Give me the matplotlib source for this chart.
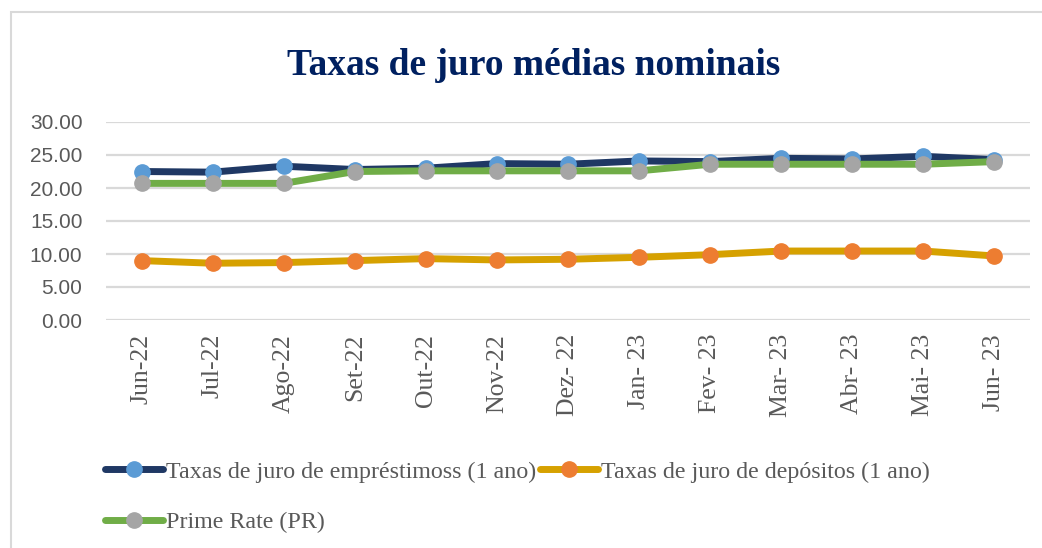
# Taxas de juro médias nominais - line chart
import numpy as np
import matplotlib
matplotlib.use("Agg")
import matplotlib.pyplot as plt
from matplotlib.patches import Rectangle

# data
meses = ["Jun-22", "Jul-22", "Ago-22", "Set-22", "Out-22", "Nov-22", "Dez- 22",
         "Jan- 23", "Fev- 23", "Mar- 23", "Abr- 23", "Mai- 23", "Jun- 23"]
emprestimos = [22.5, 22.4, 23.3, 22.8, 23.0, 23.7, 23.6, 24.1, 24.0, 24.5, 24.4, 24.8, 24.3]
depositos = [9.0, 8.6, 8.7, 9.0, 9.3, 9.1, 9.2, 9.5, 9.9, 10.45, 10.45, 10.45, 9.7]
prime_rate = [20.7, 20.7, 20.7, 22.5, 22.6, 22.6, 22.6, 22.6, 23.6, 23.6, 23.6, 23.6, 24.0]
y_ticks = [0, 5, 10, 15, 20, 25, 30]

# style
serif = ["Liberation Serif", "DejaVu Serif"]
sans = ["Liberation Sans", "DejaVu Sans"]
grid_color = "#D9D9D9"
text_color = "#595959"

fig = plt.figure(figsize=(10.42, 5.48), dpi=100)
fig.patch.set_facecolor("white")

# chart area border (runs off right and bottom edge)
fig.patches.append(Rectangle((11 / 1042, -0.05), 1.1, 1 - 12 / 548 + 0.05,
                             transform=fig.transFigure, fill=False,
                             edgecolor=grid_color, linewidth=1.5, zorder=0))

ax = fig.add_axes([106 / 1042, 1 - 320 / 548, 924 / 1042, 198 / 548])
x = np.arange(len(meses))

series = [
    (emprestimos, "#1F3864", "#5B9BD5", "Taxas de juro de empréstimoss (1 ano)"),
    (depositos, "#D6A100", "#ED7D31", "Taxas de juro de depósitos (1 ano)"),
    (prime_rate, "#70AD47", "#A5A5A5", "Prime Rate (PR)"),
]
handles = []
for i, (vals, lc, mc, lab) in enumerate(series):
    h, = ax.plot(x, vals, color=lc, linewidth=5, marker="o", markersize=11,
                 markerfacecolor=mc, markeredgecolor=mc, label=lab,
                 solid_capstyle="round", zorder=3 + i)
    handles.append(h)

# axes
ax.set_xlim(-0.5, len(meses) - 0.5)
ax.set_ylim(0, 30)
ax.set_yticks(y_ticks)
ax.set_yticklabels(["%.2f" % v for v in y_ticks], fontfamily=sans, fontsize=15,
                   color=text_color)
ax.set_xticks(x)
ax.set_xticklabels(meses, rotation=90, fontfamily=serif, fontsize=18.5,
                   color=text_color, ha="center", va="top")
ax.tick_params(axis="y", length=0, pad=17)
ax.tick_params(axis="x", length=0, pad=10)
ax.grid(axis="y", color=grid_color, linewidth=1.6)
ax.set_axisbelow(True)
for s in ax.spines.values():
    s.set_visible(False)

# title
fig.text(534 / 1042, 1 - 75 / 548, "Taxas de juro médias nominais",
         ha="center", va="baseline", fontfamily=serif, fontweight="bold",
         fontsize=27, color="#002060")

# legend (row order: loans, deposits / prime)
leg = fig.legend([handles[0], handles[2], handles[1]],
                 [series[0][3], series[2][3], series[1][3]],
                 ncol=2, loc="upper left", bbox_to_anchor=(105 / 1042, 1 - 461 / 548),
                 frameon=False, prop={"family": serif, "size": 17.3},
                 handlelength=2.4, handletextpad=0.15, columnspacing=0.15,
                 labelspacing=1.2, borderpad=0, borderaxespad=0)
for t in leg.get_texts():
    t.set_color(text_color)

fig.savefig("out.png", dpi=100)
